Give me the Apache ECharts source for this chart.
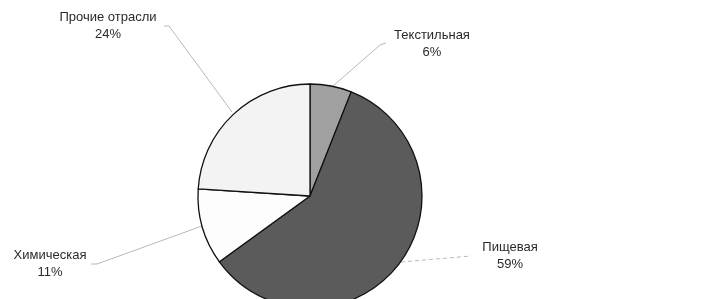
<!DOCTYPE html>
<html><head><meta charset="utf-8">
<script src="https://cdn.jsdelivr.net/npm/echarts@6/dist/echarts.min.js"></script>
<style>html,body{margin:0;padding:0;background:#fff}#c{width:708px;height:299px}</style>
</head><body><div id="c"></div>
<script>
const categories = ['Текстильная', 'Пищевая', 'Химическая', 'Прочие отрасли'];
const values = [6, 59, 11, 24];
const colors = ['#a0a0a0', '#5b5b5b', '#fdfdfd', '#f3f3f3'];

// label placement (layout only)
const labelPos = [
  {x: 432, y: 44, line: [[333, 86], [380, 45], [386, 43]]},
  {x: 510, y: 256, line: [[401, 262], [471, 256]]},
  {x: 50, y: 264, line: [[202, 226], [97, 264], [91, 264]]},
  {x: 108, y: 26, line: [[232, 112], [169, 26], [164, 26]]}
];

const chart = echarts.init(document.getElementById('c'));
chart.setOption({
  animation: false,
  series: [{
    type: 'pie',
    center: [310, 196],
    radius: 112,
    startAngle: 90,
    clockwise: true,
    data: categories.map((n, i) => ({
      name: n, value: values[i],
      itemStyle: {color: colors[i]},
      labelLine: {lineStyle: {type: i === 1 ? [4, 3] : 'solid'}}
    })),
    itemStyle: {borderColor: '#111', borderWidth: 1.3},
    label: {
      formatter: p => p.name + '\n' + p.value + '%',
      fontFamily: 'Liberation Sans, Arial, sans-serif',
      fontSize: 13,
      lineHeight: 17,
      color: '#2a2a2a',
      align: 'center'
    },
    labelLine: {show: true, lineStyle: {color: '#b8b8b8', width: 1}},
    labelLayout: function (params) {
      const p = labelPos[params.dataIndex];
      return {x: p.x, y: p.y, align: 'center', verticalAlign: 'middle', labelLinePoints: p.line};
    }
  }]
});
</script></body></html>
